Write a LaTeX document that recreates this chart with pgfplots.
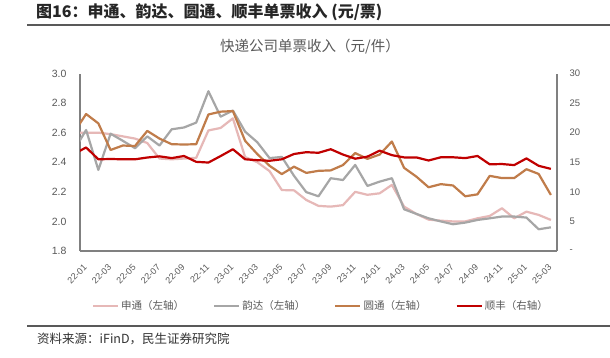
\documentclass[border=0pt]{standalone}
\usepackage{fontspec}
\setmainfont{Liberation Sans}
\newfontfamily\cjk{Noto Sans CJK SC}
\usepackage{pgfplots}
\pgfplotsset{compat=1.18}
\usepackage{pgfplotstable}
\definecolor{cpink}{RGB}{230,184,183}
\definecolor{cgray}{RGB}{166,166,166}
\definecolor{corange}{RGB}{192,124,74}
\definecolor{cred}{RGB}{192,0,0}
\definecolor{axgray}{RGB}{128,128,128}
\definecolor{txtgray}{RGB}{89,89,89}

% x = month index (0 = 22-01); -1 = 21-12 (clipped at the left edge)
\pgfplotstableread{
x y
-1 2.600
0 2.600
1 2.600
2 2.590
3 2.575
4 2.560
5 2.530
6 2.425
7 2.420
8 2.425
9 2.430
10 2.615
11 2.632
12 2.697
13 2.435
14 2.400
15 2.340
16 2.212
17 2.210
18 2.145
19 2.105
20 2.100
21 2.110
22 2.200
23 2.180
24 2.190
25 2.247
26 2.100
27 2.051
28 2.012
29 2.005
30 2.000
31 2.000
32 2.021
33 2.037
34 2.089
35 2.021
36 2.066
37 2.044
38 2.010
}\stoT

\pgfplotstableread{
x y
-1 2.480
0 2.618
1 2.348
2 2.593
3 2.545
4 2.495
5 2.575
6 2.513
7 2.623
8 2.635
9 2.668
10 2.880
11 2.708
12 2.750
13 2.607
14 2.535
15 2.428
16 2.436
17 2.308
18 2.198
19 2.170
20 2.292
21 2.280
22 2.382
23 2.240
24 2.269
25 2.292
26 2.082
27 2.051
28 2.021
29 2.000
30 1.981
31 1.992
32 2.010
33 2.021
34 2.033
35 2.033
36 2.026
37 1.947
38 1.960
}\ydT

\pgfplotstableread{
x y
-1 2.600
0 2.726
1 2.663
2 2.483
3 2.513
4 2.510
5 2.612
6 2.560
7 2.522
8 2.520
9 2.522
10 2.723
11 2.742
12 2.746
13 2.545
14 2.455
15 2.376
16 2.320
17 2.370
18 2.328
19 2.342
20 2.345
21 2.381
22 2.462
23 2.423
24 2.452
25 2.540
26 2.362
27 2.303
28 2.231
29 2.252
30 2.243
31 2.170
32 2.183
33 2.308
34 2.293
35 2.293
36 2.353
37 2.321
38 2.179
}\ytoT

\pgfplotstableread{
x y
-1 16.40
0 17.50
1 15.50
2 15.55
3 15.50
4 15.50
5 15.80
6 16.00
7 15.70
8 16.06
9 15.07
10 14.95
11 16.05
12 17.20
13 15.50
14 15.35
15 15.25
16 15.50
17 16.40
18 16.70
19 16.60
20 17.20
21 16.30
22 15.60
23 15.95
24 16.96
25 16.20
26 15.82
27 15.82
28 15.30
29 15.84
30 15.84
31 15.70
32 16.06
33 14.65
34 14.70
35 14.52
36 15.65
37 14.40
38 13.88
}\sfT

\begin{document}
\begin{tikzpicture}[x=1pt,y=1pt]
\path[use as bounding box, fill=white] (0,0) rectangle (610,357);
\node[anchor=west, inner sep=0pt, font=\cjk\bfseries\fontsize{16}{16}\selectfont, text=black!85] at (36,345) {图16：申通、韵达、圆通、顺丰单票收入 (元/票)};
\draw[line width=2pt, color=black!65] (27,332) -- (610,332);
\node[font=\cjk\fontsize{14.5}{14.5}\selectfont, text=txtgray] at (310,310) {快递公司单票收入（元/件）};
\draw[line width=1.5pt, color=black!65] (27,31) -- (610,31);
\node[anchor=west, inner sep=0pt, font=\cjk\fontsize{12.5}{12.5}\selectfont, text=black!80] at (37,18) {资料来源：iFinD，民生证券研究院};

\begin{axis}[
  at={(80pt,106pt)}, anchor=south west, scale only axis,
  width=477pt, height=177.5pt,
  xmin=-0.5, xmax=38.5, ymin=1.8, ymax=3.0,
  axis x line*=bottom, axis y line*=left,
  axis line style={draw=axgray, line width=1.3pt},
  major tick length=0pt,
  ytick={1.8,2,2.2,2.4,2.6,2.8,3},
  yticklabels={1.8,2.0,2.2,2.4,2.6,2.8,3.0},
  tick label style={font=\fontsize{9.5}{10}\selectfont, text=txtgray},
  yticklabel style={xshift=-10pt, font=\fontsize{10.5}{11}\selectfont},
  xtick={0,2,...,38},
  xticklabels={22-01,22-03,22-05,22-07,22-09,22-11,23-01,23-03,23-05,23-07,23-09,23-11,24-01,24-03,24-05,24-07,24-09,24-11,25-01,25-03},
  xticklabel style={rotate=45, anchor=east, inner sep=1pt, font=\fontsize{9}{9}\selectfont},
  xticklabel shift=14pt,
  legend style={draw=none, fill=none, at={(axis description cs:0.505,-0.31)}, anchor=center,
    font=\cjk\fontsize{10.5}{10.5}\selectfont, text=txtgray,
    /tikz/every even column/.append style={column sep=27pt}},
  legend columns=4,
  legend image code/.code={\draw[#1] (0pt,0pt) -- (25pt,0pt);},
  every axis plot/.append style={line join=round},
]
\addplot[cpink, line width=2.2pt] table[x=x,y=y]{\stoT};
\addlegendentry{申通（左轴）}
\addplot[cgray, line width=2.2pt] table[x=x,y=y]{\ydT};
\addlegendentry{韵达（左轴）}
\addplot[corange, line width=2.2pt] table[x=x,y=y]{\ytoT};
\addlegendentry{圆通（左轴）}
\addlegendimage{cred, line width=2.2pt}
\addlegendentry{顺丰（右轴）}
\end{axis}

\begin{axis}[
  at={(80pt,106pt)}, anchor=south west, scale only axis,
  width=477pt, height=177.5pt,
  xmin=-0.5, xmax=38.5, ymin=0, ymax=30,
  axis y line*=right, axis x line=none,
  axis line style={draw=axgray, line width=1.3pt},
  major tick length=0pt,
  ytick={0,5,10,15,20,25,30},
  yticklabels={-,5,10,15,20,25,30},
  tick label style={font=\fontsize{9.5}{10}\selectfont, text=txtgray},
  yticklabel style={anchor=west, xshift=9pt},
  every axis plot/.append style={line join=round},
]
\addplot[cred, line width=2.2pt] table[x=x,y=y]{\sfT};
\end{axis}
\end{tikzpicture}
\end{document}
